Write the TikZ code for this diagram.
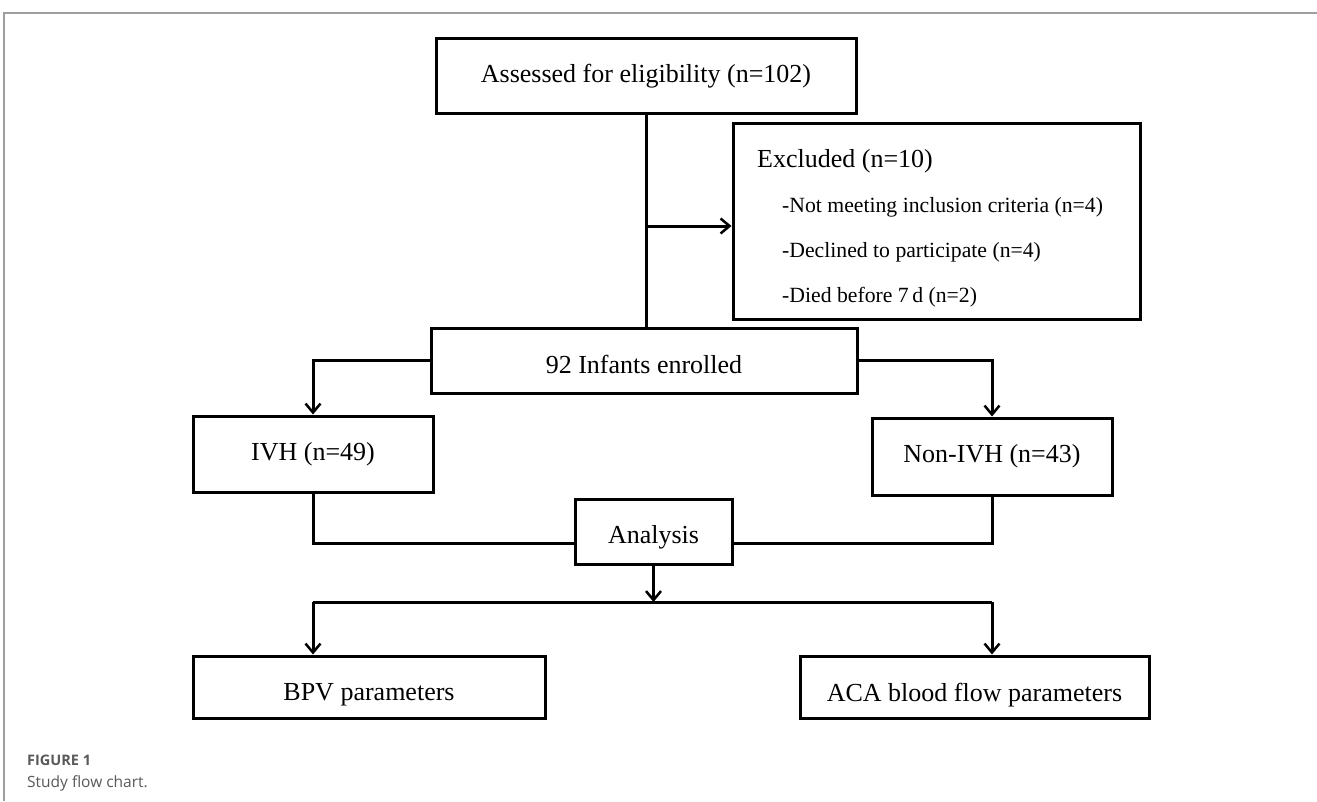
\documentclass[tikz,border=0pt]{standalone}
\usepackage{fontspec}
\setmainfont{Liberation Serif}
\newfontfamily\capfont{Open Sans}
\usetikzlibrary{arrows.meta}
\newcommand{\lowertext}[2]{\raisebox{-#1}[\height][\depth]{#2}}
\begin{document}
\begin{tikzpicture}[x=1pt,y=-1pt,
  box/.style={draw, line width=3pt, inner sep=0pt, font=\fontsize{26}{30}\selectfont},
  subtext/.style={inner sep=0pt, anchor=base west, font=\fontsize{21.7}{26}\selectfont},
  headtext/.style={inner sep=0pt, anchor=base west, font=\fontsize{26}{30}\selectfont},
  conn/.style={line width=3pt},
  arr/.style={line width=3pt, -{Straight Barb[length=9pt,width=15pt,line width=2.5pt]}},
  framel/.style={draw=black!38, line width=1.5pt},
  captext/.style={inner sep=0pt, anchor=west, text=black!65}]
\useasboundingbox (0,0) rectangle (1317,801);
% frame
\coordinate (fa) at (4,801);
\coordinate (fb) at (4,13);
\coordinate (fc) at (1317,13);
\draw[framel] (fa) -- (fb) -- (fc);
% boxes
\node[box, minimum width=420, minimum height=75] (assess) at (646,75.5) {\lowertext{1pt}{Assessed for eligibility (n=102)}};
\node[box, minimum width=407, minimum height=196] (excl) at (936.5,221) {};
\node[headtext] (exh) at (757,167) {Excluded (n=10)};
\node[subtext] (ex1) at (782,212) {-Not meeting inclusion criteria (n=4)};
\node[subtext] (ex2) at (782,257) {-Declined to participate (n=4)};
\node[subtext] (ex3) at (782,302) {-Died before 7\,d (n=2)};
\node[box, minimum width=426, minimum height=65] (enr) at (644,360.5) {\lowertext{4pt}{92 Infants enrolled}};
\node[box, minimum width=240, minimum height=76] (ivh) at (313,454) {IVH (n=49)};
\node[box, minimum width=240, minimum height=77] (nivh) at (992,456.5) {Non-IVH (n=43)};
\node[box, minimum width=157, minimum height=65] (ana) at (653.5,531.5) {\lowertext{6pt}{Analysis}};
\node[box, minimum width=352, minimum height=62] (bpv) at (369,687) {\lowertext{8pt}{BPV parameters}};
\node[box, minimum width=349, minimum height=62] (aca) at (974.5,687) {\lowertext{8pt}{ACA blood flow parameters}};
% helper coordinates
\coordinate (jx) at (646,226);
\coordinate (jl) at (0,543);
\coordinate (jb) at (0,602);
% connectors
\draw[conn] (assess.south) -- (assess.south |- enr.north);
\draw[arr] (jx) -- (jx -| excl.west);
\draw[arr] (enr.west) -| (ivh.north);
\draw[arr] (enr.east) -| (nivh.north);
\draw[conn] (ivh.south) |- (ana.west |- jl);
\draw[conn] (nivh.south) |- (ana.east |- jl);
\draw[arr] (ana.south) -- (ana.south |- jb);
\draw[conn] (ivh.south |- jb) -- (nivh.south |- jb);
\draw[arr] (ivh.south |- jb) -- (ivh.south |- bpv.north);
\draw[arr] (nivh.south |- jb) -- (nivh.south |- aca.north);
% caption
\node[captext, font=\capfont\bfseries\fontsize{14.5}{17}\selectfont] (figl) at (27,760) {FIGURE 1};
\node[captext, font=\capfont\fontsize{15.5}{19}\selectfont] (figc) at (27,783) {Study flow chart.};
\end{tikzpicture}
\end{document}
